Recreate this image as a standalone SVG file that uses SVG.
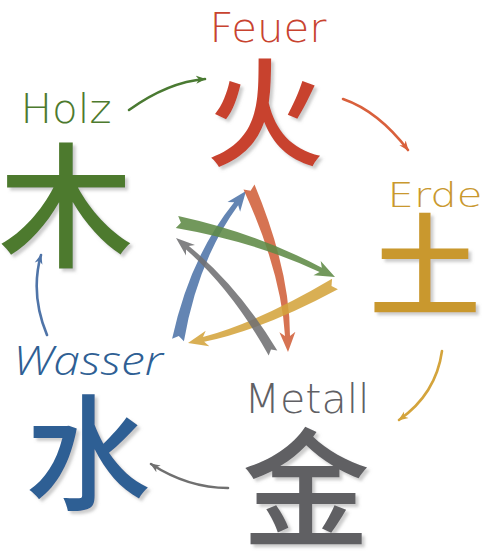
<svg xmlns="http://www.w3.org/2000/svg" width="490" height="560" viewBox="0 0 490 560">
<defs>
<filter id="sh" x="-20%" y="-20%" width="140%" height="140%">
<feDropShadow dx="3" dy="3" stdDeviation="1.5" flood-color="#9a9a9a" flood-opacity="0.5"/>
</filter>
<marker id="mG" viewBox="0 0 10 10" refX="9" refY="5" markerWidth="10" markerHeight="10" markerUnits="userSpaceOnUse" orient="auto"><path d="M0,1 L10,5 L0,9 L3,5 Z" fill="#4a7a32"/></marker>
<marker id="mR" viewBox="0 0 10 10" refX="9" refY="5" markerWidth="10" markerHeight="10" markerUnits="userSpaceOnUse" orient="auto"><path d="M0,1 L10,5 L0,9 L3,5 Z" fill="#d9603c"/></marker>
<marker id="mY" viewBox="0 0 10 10" refX="9" refY="5" markerWidth="10" markerHeight="10" markerUnits="userSpaceOnUse" orient="auto"><path d="M0,1 L10,5 L0,9 L3,5 Z" fill="#d4a43c"/></marker>
<marker id="mK" viewBox="0 0 10 10" refX="9" refY="5" markerWidth="10" markerHeight="10" markerUnits="userSpaceOnUse" orient="auto"><path d="M0,1 L10,5 L0,9 L3,5 Z" fill="#707070"/></marker>
<marker id="mB" viewBox="0 0 10 10" refX="9" refY="5" markerWidth="10" markerHeight="10" markerUnits="userSpaceOnUse" orient="auto"><path d="M0,1 L10,5 L0,9 L3,5 Z" fill="#4f74a8"/></marker>
</defs>
<style>
.lbl{font-family:"DejaVu Sans","Open Sans",sans-serif;font-weight:200;font-size:40px;text-anchor:middle}
.ital{font-family:"Open Sans","DejaVu Sans",sans-serif;font-weight:300;font-style:italic}
.cjk{font-family:"Noto Sans CJK SC","Noto Sans CJK JP",sans-serif;font-weight:500;text-anchor:middle;filter:url(#sh)}
.out{fill:none;stroke-width:2.6;stroke-linecap:round}
.star{opacity:0.88}
</style>
<g id="fire"><text class="lbl" x="268" y="42" textLength="117" lengthAdjust="spacingAndGlyphs" fill="#c8432f">Feuer</text><text class="cjk" x="265" y="157" style="font-size:118px" fill="#c8432f">火</text></g>
<g id="earth"><text class="lbl" x="435" y="207" textLength="95" lengthAdjust="spacingAndGlyphs" style="font-size:34px" fill="#c9982e">Erde</text><text class="cjk" x="425" y="308" style="font-size:112px" fill="#c9982e">土</text></g>
<g id="metal"><text class="lbl" x="307" y="413" textLength="125" lengthAdjust="spacingAndGlyphs" fill="#606064">Metall</text><text class="cjk" x="306" y="537" style="font-size:128px" fill="#606064">金</text></g>
<g id="water"><text class="lbl ital" x="88" y="375" textLength="150" lengthAdjust="spacingAndGlyphs" fill="#2f5f94">Wasser</text><text class="cjk" x="88" y="500" style="font-size:125px" fill="#2f5f94">水</text></g>
<g id="wood"><text class="lbl" x="66" y="123" textLength="91" lengthAdjust="spacingAndGlyphs" fill="#4d7a2e">Holz</text><text class="cjk" x="66" y="257" style="font-size:135px" fill="#4d7a2e">木</text></g>
<g id="connectors">
<path class="out" d="M129,110 Q168,82 205,79" stroke="#4a7a32" marker-end="url(#mG)"/>
<path class="out" d="M343,99 Q378,111 408,150" stroke="#d9603c" marker-end="url(#mR)"/>
<path class="out" d="M442,351 Q436,394 399,420" stroke="#d4a43c" marker-end="url(#mY)"/>
<path class="out" d="M228,488 Q188,488 151,464" stroke="#707070" marker-end="url(#mK)"/>
<path class="out" d="M47,335 Q30,294 41,255" stroke="#4f74a8" marker-end="url(#mB)"/>
<path class="star" fill="#4f74a8" d="M183.9,341.2 Q197.9,260.3 238.2,205.2 L240.1,211.8 L246,191 L227.5,202 L234.2,202.2 Q190.1,256.7 172.1,338.8 L178.8,336.1 Z"/>
<path class="star" fill="#d0603a" d="M243.5,189.4 Q281.1,271.5 285,336.1 L279.4,332.2 L288,352 L295.4,331.8 L290,335.9 Q289.9,269.5 254.5,184.6 L250.6,190.7 Z"/>
<path class="star" fill="#5f8a45" d="M175.8,227.9 Q254.6,241.5 319.6,272.1 L313.5,275.3 L335,277 L320.7,260.9 L321.8,267.7 Q257.4,233.5 178.2,216.1 L180.9,222.8 Z"/>
<path class="star" fill="#d4a43c" d="M332.1,278.8 Q259,322 203,337 L205.7,330.7 L188,343 L209.3,346.3 L204.2,341.8 Q262,330 337.9,289.2 L331.5,286 Z"/>
<path class="star" fill="#6f7072" d="M277.3,350.5 Q238.3,286.2 188.8,246 L195,245 L176,238 L186,255.6 L186,249.4 Q232.7,290.8 268.7,355.5 L271,349.5 Z"/>
</g>
</svg>
